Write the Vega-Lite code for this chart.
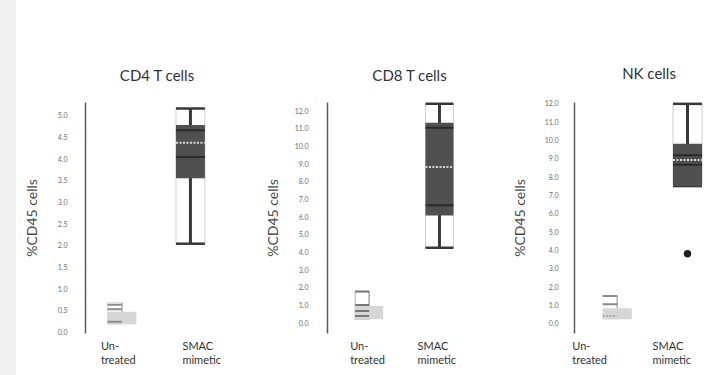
{
  "$schema": "https://vega.github.io/schema/vega-lite/v6.json",
  "padding": 0,
  "background": "#ffffff",
  "spacing": 9,
  "datasets": {
    "boxes": [
      {"panel": "CD4", "group": "Un- treated", "min": 0.19, "q1": 0.19, "q3": 0.48, "max": 0.69},
      {"panel": "CD4", "group": "SMAC mimetic", "min": 2.05, "q1": 3.56, "q3": 4.79, "max": 5.17},
      {"panel": "CD8", "group": "Un- treated", "min": 0.23, "q1": 0.23, "q3": 0.98, "max": 1.79},
      {"panel": "CD8", "group": "SMAC mimetic", "min": 4.27, "q1": 6.10, "q3": 11.34, "max": 12.41},
      {"panel": "NK", "group": "Un- treated", "min": 0.24, "q1": 0.24, "q3": 0.84, "max": 1.51},
      {"panel": "NK", "group": "SMAC mimetic", "min": 7.51, "q1": 7.51, "q3": 9.82, "max": 12.0}
    ],
    "lines": [
      {"panel": "CD4", "group": "Un- treated", "value": 0.64, "kind": "solid"},
      {"panel": "CD4", "group": "Un- treated", "value": 0.54, "kind": "solid"},
      {"panel": "CD4", "group": "Un- treated", "value": 0.25, "kind": "solid"},
      {"panel": "CD4", "group": "SMAC mimetic", "value": 4.67, "kind": "solid"},
      {"panel": "CD4", "group": "SMAC mimetic", "value": 4.38, "kind": "dotted"},
      {"panel": "CD4", "group": "SMAC mimetic", "value": 4.05, "kind": "solid"},
      {"panel": "CD8", "group": "Un- treated", "value": 1.79, "kind": "solid"},
      {"panel": "CD8", "group": "Un- treated", "value": 1.03, "kind": "solid"},
      {"panel": "CD8", "group": "Un- treated", "value": 0.70, "kind": "solid"},
      {"panel": "CD8", "group": "Un- treated", "value": 0.41, "kind": "solid"},
      {"panel": "CD8", "group": "SMAC mimetic", "value": 11.06, "kind": "solid"},
      {"panel": "CD8", "group": "SMAC mimetic", "value": 8.84, "kind": "dotted"},
      {"panel": "CD8", "group": "SMAC mimetic", "value": 6.67, "kind": "solid"},
      {"panel": "NK", "group": "Un- treated", "value": 1.51, "kind": "solid"},
      {"panel": "NK", "group": "Un- treated", "value": 1.06, "kind": "solid"},
      {"panel": "NK", "group": "Un- treated", "value": 0.42, "kind": "dotted"},
      {"panel": "NK", "group": "SMAC mimetic", "value": 9.19, "kind": "solid"},
      {"panel": "NK", "group": "SMAC mimetic", "value": 8.93, "kind": "dotted"},
      {"panel": "NK", "group": "SMAC mimetic", "value": 8.67, "kind": "solid"}
    ],
    "outliers": [
      {"panel": "NK", "group": "SMAC mimetic", "value": 3.82}
    ]
  },
  "hconcat": [
    {
      "width": 16,
      "height": 375,
      "view": {"fill": "#f0f0f0", "stroke": null},
      "data": {"values": [{}]},
      "mark": {"type": "point", "opacity": 0},
      "encoding": {}
    },
    {
      "spacing": 0,
      "vconcat": [
        {
          "width": 10,
          "height": 66,
          "data": {"values": [{}]},
          "mark": {"type": "point", "opacity": 0},
          "encoding": {}
        },
        {
          "spacing": 9,
          "hconcat": [
            {
              "width": 172,
              "height": 231,
              "title": {"text": "CD4 T cells", "dx": -14},
              "encoding": {
                "x": {"field": "group", "type": "nominal", "title": null,
                  "scale": {"domain": ["Un- treated", "SMAC mimetic"], "paddingInner": 0.578, "paddingOuter": 0.544, "align": 0.301},
                  "axis": {"labelOffset": {"condition": {"test": "datum.value == 'SMAC mimetic'", "value": -8}, "value": -21}}}
              },
              "layer": [
                {
                  "data": {"name": "boxes"},
                  "transform": [{"filter": "datum.panel == 'CD4' && datum.group == 'SMAC mimetic'"}],
                  "mark": {"type": "bar", "fill": "#ffffff", "stroke": "#cfcfcf", "strokeWidth": 1, "width": {"band": 1}},
                  "encoding": {
                    "y": {"field": "min", "type": "quantitative", "title": "%CD45 cells",
                      "scale": {"domain": [-0.01, 5.32], "nice": false, "zero": false},
                      "axis": {"values": [0, 0.5, 1, 1.5, 2, 2.5, 3, 3.5, 4, 4.5, 5], "tickCount": 11, "format": ".1f", "labelOverlap": false, "labelPadding": 18, "titlePadding": 18}},
                    "y2": {"field": "max"}
                  }
                },
                {
                  "data": {"name": "boxes"},
                  "transform": [{"filter": "datum.panel == 'CD4' && datum.group == 'Un- treated'"}],
                  "mark": {"type": "bar", "fill": "#ffffff", "stroke": "#dddddd", "strokeWidth": 1, "width": {"band": 0.5}, "xOffset": -7},
                  "encoding": {
                    "y": {"field": "min", "type": "quantitative", "title": "%CD45 cells",
                      "axis": {"values": [0, 0.5, 1, 1.5, 2, 2.5, 3, 3.5, 4, 4.5, 5], "tickCount": 11, "format": ".1f", "labelOverlap": false, "labelPadding": 18, "titlePadding": 18}},
                    "y2": {"field": "max"}
                  }
                },
                {
                  "data": {"name": "boxes"},
                  "transform": [{"filter": "datum.panel == 'CD4' && datum.group == 'SMAC mimetic'"}],
                  "mark": {"type": "rule", "color": "#383838", "strokeWidth": 3},
                  "encoding": {
                    "y": {"field": "min", "type": "quantitative", "title": "%CD45 cells",
                      "axis": {"values": [0, 0.5, 1, 1.5, 2, 2.5, 3, 3.5, 4, 4.5, 5], "tickCount": 11, "format": ".1f", "labelOverlap": false, "labelPadding": 18, "titlePadding": 18}},
                    "y2": {"field": "max"}
                  }
                },
                {
                  "data": {"name": "boxes"},
                  "transform": [{"filter": "datum.panel == 'CD4' && datum.group == 'Un- treated'"}],
                  "mark": {"type": "rule", "color": "#b0b0b0", "strokeWidth": 1.5},
                  "encoding": {
                    "y": {"field": "q3", "type": "quantitative", "title": "%CD45 cells",
                      "axis": {"values": [0, 0.5, 1, 1.5, 2, 2.5, 3, 3.5, 4, 4.5, 5], "tickCount": 11, "format": ".1f", "labelOverlap": false, "labelPadding": 18, "titlePadding": 18}},
                    "y2": {"field": "max"}
                  }
                },
                {
                  "data": {"name": "boxes"},
                  "transform": [{"filter": "datum.panel == 'CD4' && datum.group == 'SMAC mimetic'"}, {"fold": ["min", "max"], "as": ["end", "endValue"]}],
                  "mark": {"type": "rule", "color": "#383838", "strokeWidth": 2.5},
                  "encoding": {
                    "x": {"field": "group", "type": "nominal", "bandPosition": 0, "title": null},
                    "x2": {"field": "group", "bandPosition": 1},
                    "y": {"field": "endValue", "type": "quantitative", "title": "%CD45 cells",
                      "axis": {"values": [0, 0.5, 1, 1.5, 2, 2.5, 3, 3.5, 4, 4.5, 5], "tickCount": 11, "format": ".1f", "labelOverlap": false, "labelPadding": 18, "titlePadding": 18}}
                  }
                },
                {
                  "data": {"name": "boxes"},
                  "transform": [{"filter": "datum.panel == 'CD4'"}],
                  "mark": {"type": "bar", "width": {"band": 1}},
                  "encoding": {
                    "y": {"field": "q1", "type": "quantitative", "title": "%CD45 cells",
                      "axis": {"values": [0, 0.5, 1, 1.5, 2, 2.5, 3, 3.5, 4, 4.5, 5], "tickCount": 11, "format": ".1f", "labelOverlap": false, "labelPadding": 18, "titlePadding": 18}},
                    "y2": {"field": "q3"},
                    "color": {"condition": {"test": "datum.group == 'SMAC mimetic'", "value": "#505050"}, "value": "#d6d6d6"}
                  }
                },
                {
                  "data": {"name": "lines"},
                  "transform": [{"filter": "datum.panel == 'CD4' && datum.group == 'SMAC mimetic'"}],
                  "mark": {"type": "rule", "strokeWidth": 2},
                  "encoding": {
                    "x": {"field": "group", "type": "nominal", "bandPosition": 0, "title": null},
                    "x2": {"field": "group", "bandPosition": 1},
                    "y": {"field": "value", "type": "quantitative", "title": "%CD45 cells",
                      "axis": {"values": [0, 0.5, 1, 1.5, 2, 2.5, 3, 3.5, 4, 4.5, 5], "tickCount": 11, "format": ".1f", "labelOverlap": false, "labelPadding": 18, "titlePadding": 18}},
                    "color": {"condition": {"test": "datum.kind == 'dotted'", "value": "#d8d8d8"}, "value": "#2b2b2b"},
                    "strokeDash": {"condition": {"test": "datum.kind == 'dotted'", "value": [2, 1.5]}, "value": [1, 0]}
                  }
                },
                {
                  "data": {"name": "lines"},
                  "transform": [{"filter": "datum.panel == 'CD4' && datum.group == 'Un- treated'"}],
                  "mark": {"type": "rule", "strokeWidth": 2},
                  "encoding": {
                    "x": {"field": "group", "type": "nominal", "bandPosition": 0, "title": null},
                    "x2": {"field": "group", "bandPosition": 0.5},
                    "y": {"field": "value", "type": "quantitative", "title": "%CD45 cells",
                      "axis": {"values": [0, 0.5, 1, 1.5, 2, 2.5, 3, 3.5, 4, 4.5, 5], "tickCount": 11, "format": ".1f", "labelOverlap": false, "labelPadding": 18, "titlePadding": 18}},
                    "color": {"condition": {"test": "datum.kind == 'dotted'", "value": "#a8a8a8"}, "value": "#8c8c8c"},
                    "strokeDash": {"condition": {"test": "datum.kind == 'dotted'", "value": [2, 1.5]}, "value": [1, 0]}
                  }
                }
              ]
            },
            {
              "width": 177,
              "height": 231,
              "title": {"text": "CD8 T cells", "dx": -6},
              "encoding": {
                "x": {"field": "group", "type": "nominal", "title": null,
                  "scale": {"domain": ["Un- treated", "SMAC mimetic"], "paddingInner": 0.602, "paddingOuter": 0.56, "align": 0.358},
                  "axis": {"labelOffset": {"condition": {"test": "datum.value == 'SMAC mimetic'", "value": -22}, "value": -19}}}
              },
              "layer": [
                {
                  "data": {"name": "boxes"},
                  "transform": [{"filter": "datum.panel == 'CD8' && datum.group == 'SMAC mimetic'"}],
                  "mark": {"type": "bar", "fill": "#ffffff", "stroke": "#cfcfcf", "strokeWidth": 1, "width": {"band": 1}},
                  "encoding": {
                    "y": {"field": "min", "type": "quantitative", "title": "%CD45 cells",
                      "scale": {"domain": [-0.55, 12.51], "nice": false, "zero": false},
                      "axis": {"values": [0, 1, 2, 3, 4, 5, 6, 7, 8, 9, 10, 11, 12], "tickCount": 13, "format": ".1f", "labelOverlap": false, "labelPadding": 19, "titlePadding": 14}},
                    "y2": {"field": "max"}
                  }
                },
                {
                  "data": {"name": "boxes"},
                  "transform": [{"filter": "datum.panel == 'CD8' && datum.group == 'Un- treated'"}],
                  "mark": {"type": "bar", "fill": "#ffffff", "stroke": "#bdbdbd", "strokeWidth": 1.2, "width": {"band": 0.5}, "xOffset": -7},
                  "encoding": {
                    "y": {"field": "min", "type": "quantitative", "title": "%CD45 cells",
                      "axis": {"values": [0, 1, 2, 3, 4, 5, 6, 7, 8, 9, 10, 11, 12], "tickCount": 13, "format": ".1f", "labelOverlap": false, "labelPadding": 19, "titlePadding": 14}},
                    "y2": {"field": "max"}
                  }
                },
                {
                  "data": {"name": "boxes"},
                  "transform": [{"filter": "datum.panel == 'CD8' && datum.group == 'SMAC mimetic'"}],
                  "mark": {"type": "rule", "color": "#383838", "strokeWidth": 3},
                  "encoding": {
                    "y": {"field": "min", "type": "quantitative", "title": "%CD45 cells",
                      "axis": {"values": [0, 1, 2, 3, 4, 5, 6, 7, 8, 9, 10, 11, 12], "tickCount": 13, "format": ".1f", "labelOverlap": false, "labelPadding": 19, "titlePadding": 14}},
                    "y2": {"field": "max"}
                  }
                },
                {
                  "data": {"name": "boxes"},
                  "transform": [{"filter": "datum.panel == 'CD8' && datum.group == 'Un- treated'"}],
                  "mark": {"type": "rule", "color": "#b0b0b0", "strokeWidth": 1.5},
                  "encoding": {
                    "y": {"field": "q3", "type": "quantitative", "title": "%CD45 cells",
                      "axis": {"values": [0, 1, 2, 3, 4, 5, 6, 7, 8, 9, 10, 11, 12], "tickCount": 13, "format": ".1f", "labelOverlap": false, "labelPadding": 19, "titlePadding": 14}},
                    "y2": {"field": "max"}
                  }
                },
                {
                  "data": {"name": "boxes"},
                  "transform": [{"filter": "datum.panel == 'CD8' && datum.group == 'SMAC mimetic'"}, {"fold": ["min", "max"], "as": ["end", "endValue"]}],
                  "mark": {"type": "rule", "color": "#383838", "strokeWidth": 2.5},
                  "encoding": {
                    "x": {"field": "group", "type": "nominal", "bandPosition": 0, "title": null},
                    "x2": {"field": "group", "bandPosition": 1},
                    "y": {"field": "endValue", "type": "quantitative", "title": "%CD45 cells",
                      "axis": {"values": [0, 1, 2, 3, 4, 5, 6, 7, 8, 9, 10, 11, 12], "tickCount": 13, "format": ".1f", "labelOverlap": false, "labelPadding": 19, "titlePadding": 14}}
                  }
                },
                {
                  "data": {"name": "boxes"},
                  "transform": [{"filter": "datum.panel == 'CD8'"}],
                  "mark": {"type": "bar", "width": {"band": 1}},
                  "encoding": {
                    "y": {"field": "q1", "type": "quantitative", "title": "%CD45 cells",
                      "axis": {"values": [0, 1, 2, 3, 4, 5, 6, 7, 8, 9, 10, 11, 12], "tickCount": 13, "format": ".1f", "labelOverlap": false, "labelPadding": 19, "titlePadding": 14}},
                    "y2": {"field": "q3"},
                    "color": {"condition": {"test": "datum.group == 'SMAC mimetic'", "value": "#505050"}, "value": "#d6d6d6"}
                  }
                },
                {
                  "data": {"name": "lines"},
                  "transform": [{"filter": "datum.panel == 'CD8' && datum.group == 'SMAC mimetic'"}],
                  "mark": {"type": "rule", "strokeWidth": 2},
                  "encoding": {
                    "x": {"field": "group", "type": "nominal", "bandPosition": 0, "title": null},
                    "x2": {"field": "group", "bandPosition": 1},
                    "y": {"field": "value", "type": "quantitative", "title": "%CD45 cells",
                      "axis": {"values": [0, 1, 2, 3, 4, 5, 6, 7, 8, 9, 10, 11, 12], "tickCount": 13, "format": ".1f", "labelOverlap": false, "labelPadding": 19, "titlePadding": 14}},
                    "color": {"condition": {"test": "datum.kind == 'dotted'", "value": "#d8d8d8"}, "value": "#2b2b2b"},
                    "strokeDash": {"condition": {"test": "datum.kind == 'dotted'", "value": [2, 1.5]}, "value": [1, 0]}
                  }
                },
                {
                  "data": {"name": "lines"},
                  "transform": [{"filter": "datum.panel == 'CD8' && datum.group == 'Un- treated'"}],
                  "mark": {"type": "rule", "strokeWidth": 2},
                  "encoding": {
                    "x": {"field": "group", "type": "nominal", "bandPosition": 0, "title": null},
                    "x2": {"field": "group", "bandPosition": 0.5},
                    "y": {"field": "value", "type": "quantitative", "title": "%CD45 cells",
                      "axis": {"values": [0, 1, 2, 3, 4, 5, 6, 7, 8, 9, 10, 11, 12], "tickCount": 13, "format": ".1f", "labelOverlap": false, "labelPadding": 19, "titlePadding": 14}},
                    "color": {"condition": {"test": "datum.kind == 'dotted'", "value": "#a8a8a8"}, "value": "#777777"},
                    "strokeDash": {"condition": {"test": "datum.kind == 'dotted'", "value": [2, 1.5]}, "value": [1, 0]}
                  }
                }
              ]
            },
            {
              "width": 146,
              "height": 231,
              "title": {"text": "NK cells", "dx": 2},
              "encoding": {
                "x": {"field": "group", "type": "nominal", "title": null,
                  "scale": {"domain": ["Un- treated", "SMAC mimetic"], "paddingInner": 0.587, "paddingOuter": 0.332, "align": 0.615},
                  "axis": {"labelOffset": {"condition": {"test": "datum.value == 'SMAC mimetic'", "value": -35}, "value": -45}}}
              },
              "layer": [
                {
                  "data": {"name": "boxes"},
                  "transform": [{"filter": "datum.panel == 'NK' && datum.group == 'SMAC mimetic'"}],
                  "mark": {"type": "bar", "fill": "#ffffff", "stroke": "#cfcfcf", "strokeWidth": 1, "width": {"band": 1}},
                  "encoding": {
                    "y": {"field": "min", "type": "quantitative", "title": "%CD45 cells",
                      "scale": {"domain": [-0.51, 12.10], "nice": false, "zero": false},
                      "axis": {"values": [0, 1, 2, 3, 4, 5, 6, 7, 8, 9, 10, 11, 12], "tickCount": 13, "format": ".1f", "labelOverlap": false, "labelPadding": 16, "titlePadding": 17}},
                    "y2": {"field": "max"}
                  }
                },
                {
                  "data": {"name": "boxes"},
                  "transform": [{"filter": "datum.panel == 'NK' && datum.group == 'Un- treated'"}],
                  "mark": {"type": "bar", "fill": "#ffffff", "stroke": "#eeeeee", "strokeWidth": 1, "width": {"band": 0.5}, "xOffset": -7},
                  "encoding": {
                    "y": {"field": "min", "type": "quantitative", "title": "%CD45 cells",
                      "axis": {"values": [0, 1, 2, 3, 4, 5, 6, 7, 8, 9, 10, 11, 12], "tickCount": 13, "format": ".1f", "labelOverlap": false, "labelPadding": 16, "titlePadding": 17}},
                    "y2": {"field": "max"}
                  }
                },
                {
                  "data": {"name": "boxes"},
                  "transform": [{"filter": "datum.panel == 'NK' && datum.group == 'SMAC mimetic'"}],
                  "mark": {"type": "rule", "color": "#383838", "strokeWidth": 3},
                  "encoding": {
                    "y": {"field": "min", "type": "quantitative", "title": "%CD45 cells",
                      "axis": {"values": [0, 1, 2, 3, 4, 5, 6, 7, 8, 9, 10, 11, 12], "tickCount": 13, "format": ".1f", "labelOverlap": false, "labelPadding": 16, "titlePadding": 17}},
                    "y2": {"field": "max"}
                  }
                },
                {
                  "data": {"name": "boxes"},
                  "transform": [{"filter": "datum.panel == 'NK' && datum.group == 'Un- treated'"}],
                  "mark": {"type": "rule", "color": "#b0b0b0", "strokeWidth": 1.5},
                  "encoding": {
                    "y": {"field": "q3", "type": "quantitative", "title": "%CD45 cells",
                      "axis": {"values": [0, 1, 2, 3, 4, 5, 6, 7, 8, 9, 10, 11, 12], "tickCount": 13, "format": ".1f", "labelOverlap": false, "labelPadding": 16, "titlePadding": 17}},
                    "y2": {"field": "max"}
                  }
                },
                {
                  "data": {"name": "boxes"},
                  "transform": [{"filter": "datum.panel == 'NK' && datum.group == 'SMAC mimetic'"}, {"fold": ["min", "max"], "as": ["end", "endValue"]}],
                  "mark": {"type": "rule", "color": "#383838", "strokeWidth": 2.5},
                  "encoding": {
                    "x": {"field": "group", "type": "nominal", "bandPosition": 0, "title": null},
                    "x2": {"field": "group", "bandPosition": 1},
                    "y": {"field": "endValue", "type": "quantitative", "title": "%CD45 cells",
                      "axis": {"values": [0, 1, 2, 3, 4, 5, 6, 7, 8, 9, 10, 11, 12], "tickCount": 13, "format": ".1f", "labelOverlap": false, "labelPadding": 16, "titlePadding": 17}}
                  }
                },
                {
                  "data": {"name": "boxes"},
                  "transform": [{"filter": "datum.panel == 'NK'"}],
                  "mark": {"type": "bar", "width": {"band": 1}},
                  "encoding": {
                    "y": {"field": "q1", "type": "quantitative", "title": "%CD45 cells",
                      "axis": {"values": [0, 1, 2, 3, 4, 5, 6, 7, 8, 9, 10, 11, 12], "tickCount": 13, "format": ".1f", "labelOverlap": false, "labelPadding": 16, "titlePadding": 17}},
                    "y2": {"field": "q3"},
                    "color": {"condition": {"test": "datum.group == 'SMAC mimetic'", "value": "#505050"}, "value": "#d6d6d6"}
                  }
                },
                {
                  "data": {"name": "lines"},
                  "transform": [{"filter": "datum.panel == 'NK' && datum.group == 'SMAC mimetic'"}],
                  "mark": {"type": "rule", "strokeWidth": 2},
                  "encoding": {
                    "x": {"field": "group", "type": "nominal", "bandPosition": 0, "title": null},
                    "x2": {"field": "group", "bandPosition": 1},
                    "y": {"field": "value", "type": "quantitative", "title": "%CD45 cells",
                      "axis": {"values": [0, 1, 2, 3, 4, 5, 6, 7, 8, 9, 10, 11, 12], "tickCount": 13, "format": ".1f", "labelOverlap": false, "labelPadding": 16, "titlePadding": 17}},
                    "color": {"condition": {"test": "datum.kind == 'dotted'", "value": "#d8d8d8"}, "value": "#2b2b2b"},
                    "strokeDash": {"condition": {"test": "datum.kind == 'dotted'", "value": [2, 1.5]}, "value": [1, 0]}
                  }
                },
                {
                  "data": {"name": "lines"},
                  "transform": [{"filter": "datum.panel == 'NK' && datum.group == 'Un- treated'"}],
                  "mark": {"type": "rule", "strokeWidth": 2},
                  "encoding": {
                    "x": {"field": "group", "type": "nominal", "bandPosition": 0, "title": null},
                    "x2": {"field": "group", "bandPosition": 0.5},
                    "y": {"field": "value", "type": "quantitative", "title": "%CD45 cells",
                      "axis": {"values": [0, 1, 2, 3, 4, 5, 6, 7, 8, 9, 10, 11, 12], "tickCount": 13, "format": ".1f", "labelOverlap": false, "labelPadding": 16, "titlePadding": 17}},
                    "color": {"condition": {"test": "datum.kind == 'dotted'", "value": "#a8a8a8"}, "value": "#8c8c8c"},
                    "strokeDash": {"condition": {"test": "datum.kind == 'dotted'", "value": [2, 1.5]}, "value": [1, 0]}
                  }
                },
                {
                  "data": {"name": "outliers"},
                  "transform": [{"filter": "datum.panel == 'NK'"}],
                  "mark": {"type": "point", "filled": true, "color": "#1e1e1e", "size": 55, "opacity": 1},
                  "encoding": {
                    "y": {"field": "value", "type": "quantitative", "title": "%CD45 cells",
                      "axis": {"values": [0, 1, 2, 3, 4, 5, 6, 7, 8, 9, 10, 11, 12], "tickCount": 13, "format": ".1f", "labelOverlap": false, "labelPadding": 16, "titlePadding": 17}}
                  }
                }
              ]
            }
          ]
        }
      ]
    }
  ],
  "config": {
    "font": "Lato",
    "view": {"stroke": null},
    "axisY": {"domainColor": "#5a5a5a", "domainWidth": 1.5, "ticks": false, "grid": false, "labelOverlap": false, "labelFlush": false, "tickCount": 11, "labelFontSize": 7, "labelColor": "#6e6e6e", "labelFont": "Lato", "titleFont": "Lato", "titleFontSize": 14, "titleFontWeight": "normal", "titleColor": "#4a4a4a"},
    "axisX": {"domain": false, "ticks": false, "grid": false, "labelFont": "Lato", "labelFontSize": 11, "labelColor": "#333333", "labelAlign": "left", "labelBaseline": "top", "labelPadding": 7, "labelLineHeight": 14, "labelAngle": 0, "labelOverlap": false, "labelExpr": "split(datum.label, ' ')"},
    "title": {"fontSize": 15, "fontWeight": "normal", "color": "#333333", "font": "Lato", "offset": 18, "anchor": "middle"}
  }
}
